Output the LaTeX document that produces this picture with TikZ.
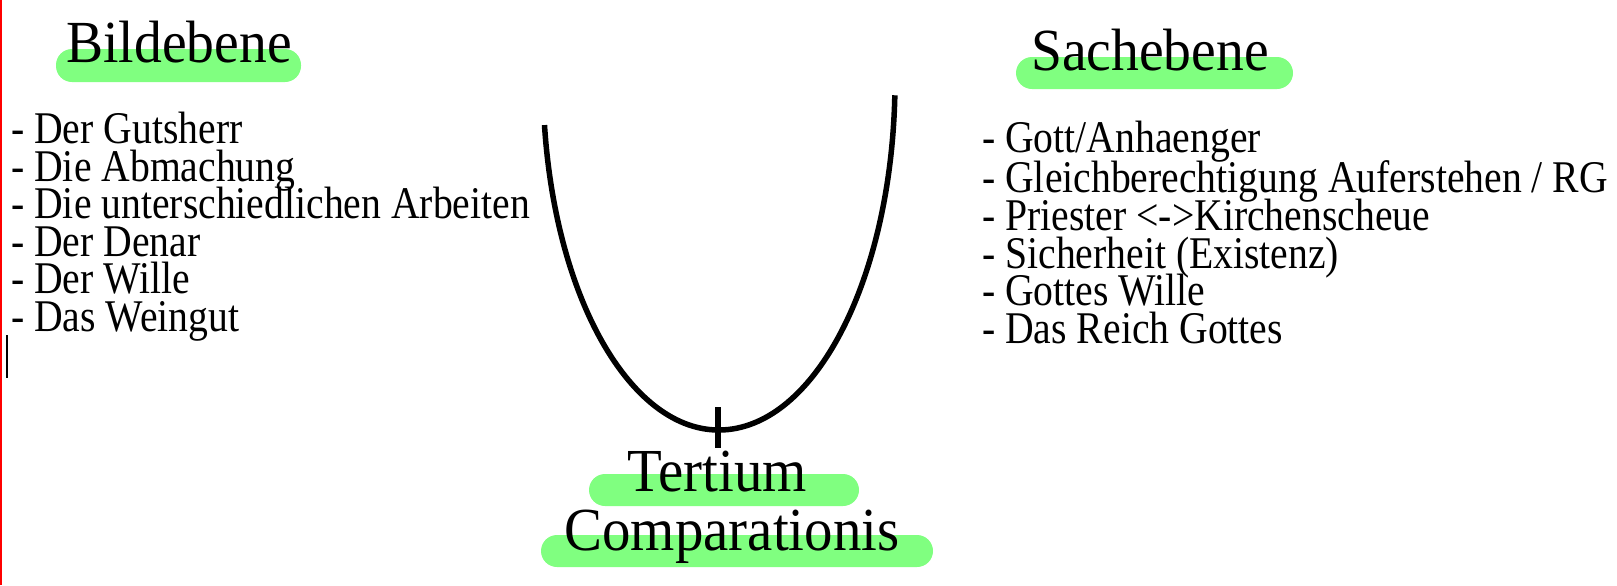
\documentclass[tikz,border=0pt]{standalone}
\usepackage{fontspec}
\newfontfamily\headfont{Liberation Serif}[FakeStretch=0.93]
\newfontfamily\listfont{Liberation Serif}[FakeStretch=0.875]
\definecolor{markergreen}{RGB}{128,255,128}

\begin{document}
\begin{tikzpicture}[
  heading/.style={anchor=base, inner sep=0pt, font=\headfont\fontsize{17}{20}\selectfont},
  listline/.style={anchor=base west, inner sep=0pt, text depth=0pt, font=\listfont\fontsize{12.9}{15}\selectfont},
  hlbar/.style={fill=markergreen, rounded corners=1.6mm}]
  \useasboundingbox (0,0) rectangle (16.17,5.85);

  % page edge and text cursor
  \draw[red, line width=0.15mm] (0.0075,0) -- (0.0075,5.85);
  \draw[line width=0.15mm] (0.07,2.50) -- (0.07,2.07);

  % highlighter bars
  \fill[hlbar] (0.56,5.03) rectangle (3.01,5.36);
  \fill[hlbar] (10.16,4.96) rectangle (12.93,5.28);
  \fill[hlbar] (5.89,0.79) rectangle (8.59,1.11);
  \fill[hlbar] (5.41,0.18) rectangle (9.33,0.50);

  % headings
  \node[heading] (bild) at (1.79,5.23) {Bildebene};
  \node[heading] (sache) at (11.50,5.15) {Sachebene};
  \node[heading, font=\headfont\fontsize{17.4}{20}\selectfont] (tert) at (7.175,0.94) {Tertium};
  \node[heading, font=\headfont\fontsize{17.4}{20}\selectfont] (comp) at (7.32,0.35) {Comparationis};

  % left list
  \node[listline] (bild1) at (0.105,4.42) {- Der Gutsherr};
  \node[listline] (bild2) at (0.105,4.04) {- Die Abmachung};
  \node[listline] (bild3) at (0.105,3.67) {- Die unterschiedlichen Arbeiten};
  \node[listline] (bild4) at (0.105,3.29) {- Der Denar};
  \node[listline] (bild5) at (0.105,2.92) {- Der Wille};
  \node[listline] (bild6) at (0.105,2.54) {- Das Weingut};

  % right list
  \node[listline] (sache1) at (9.815,4.33) {- Gott/Anhaenger};
  \node[listline] (sache2) at (9.815,3.93) {- Gleichberechtigung Auferstehen / RG};
  \node[listline] (sache3) at (9.815,3.55) {- Priester <->Kirchenscheue};
  \node[listline] (sache4) at (9.815,3.17) {- Sicherheit (Existenz)};
  \node[listline] (sache5) at (9.815,2.80) {- Gottes Wille};
  \node[listline] (sache6) at (9.815,2.42) {- Das Reich Gottes};

  % U-curve with tick
  \draw[line width=0.55mm] (7.19,5.05) ++(187.4:1.76 and 3.5)
    arc[start angle=187.4, end angle=357.5, x radius=1.76, y radius=3.5];
  \draw[line width=0.55mm] (7.18,1.78) -- (7.18,1.37);
\end{tikzpicture}
\end{document}
